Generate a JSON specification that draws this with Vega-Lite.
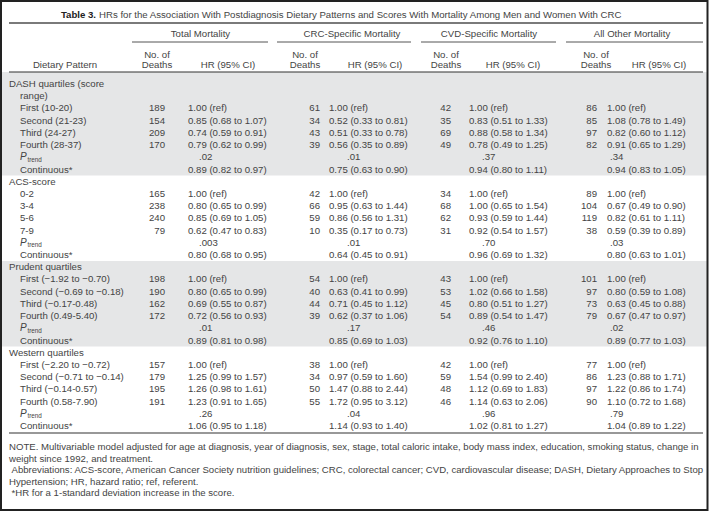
{
  "$schema": "https://vega.github.io/schema/vega-lite/v6.json",
  "width": 712,
  "height": 513,
  "autosize": "none",
  "padding": 0,
  "background": "white",
  "config": {"view": {"stroke": null}},
  "datasets": {
    "cols": [
      {"key": "s", "c": 0}, {"key": "l", "c": 2}, {"key": "pi", "c": 2}, {"key": "ps", "c": 3},
      {"key": "td", "c": 9}, {"key": "th", "c": 10}, {"key": "tp", "c": 11},
      {"key": "cd", "c": 17}, {"key": "ch", "c": 18}, {"key": "cp", "c": 19},
      {"key": "vd", "c": 25}, {"key": "vh", "c": 26}, {"key": "vp", "c": 27},
      {"key": "od", "c": 33}, {"key": "oh", "c": 34}, {"key": "op", "c": 35}
    ],
    "rows": [
      {"r": 0, "s": "DASH quartiles (score"},
      {"r": 1, "l": "range)"},
      {"r": 2, "l": "First (10-20)", "td": 189, "th": "1.00 (ref)", "cd": 61, "ch": "1.00 (ref)", "vd": 42, "vh": "1.00 (ref)", "od": 86, "oh": "1.00 (ref)"},
      {"r": 3, "l": "Second (21-23)", "td": 154, "th": "0.85 (0.68 to 1.07)", "cd": 34, "ch": "0.52 (0.33 to 0.81)", "vd": 35, "vh": "0.83 (0.51 to 1.33)", "od": 85, "oh": "1.08 (0.78 to 1.49)"},
      {"r": 4, "l": "Third (24-27)", "td": 209, "th": "0.74 (0.59 to 0.91)", "cd": 43, "ch": "0.51 (0.33 to 0.78)", "vd": 69, "vh": "0.88 (0.58 to 1.34)", "od": 97, "oh": "0.82 (0.60 to 1.12)"},
      {"r": 5, "l": "Fourth (28-37)", "td": 170, "th": "0.79 (0.62 to 0.99)", "cd": 39, "ch": "0.56 (0.35 to 0.89)", "vd": 49, "vh": "0.78 (0.49 to 1.25)", "od": 82, "oh": "0.91 (0.65 to 1.29)"},
      {"r": 6, "pi": "P", "ps": "trend", "tp": ".02", "cp": ".01", "vp": ".37", "op": ".34"},
      {"r": 7, "l": "Continuous*", "th": "0.89 (0.82 to 0.97)", "ch": "0.75 (0.63 to 0.90)", "vh": "0.94 (0.80 to 1.11)", "oh": "0.94 (0.83 to 1.05)"},
      {"r": 8, "s": "ACS-score"},
      {"r": 9, "l": "0-2", "td": 165, "th": "1.00 (ref)", "cd": 42, "ch": "1.00 (ref)", "vd": 34, "vh": "1.00 (ref)", "od": 89, "oh": "1.00 (ref)"},
      {"r": 10, "l": "3-4", "td": 238, "th": "0.80 (0.65 to 0.99)", "cd": 66, "ch": "0.95 (0.63 to 1.44)", "vd": 68, "vh": "1.00 (0.65 to 1.54)", "od": 104, "oh": "0.67 (0.49 to 0.90)"},
      {"r": 11, "l": "5-6", "td": 240, "th": "0.85 (0.69 to 1.05)", "cd": 59, "ch": "0.86 (0.56 to 1.31)", "vd": 62, "vh": "0.93 (0.59 to 1.44)", "od": 119, "oh": "0.82 (0.61 to 1.11)"},
      {"r": 12, "l": "7-9", "td": 79, "th": "0.62 (0.47 to 0.83)", "cd": 10, "ch": "0.35 (0.17 to 0.73)", "vd": 31, "vh": "0.92 (0.54 to 1.57)", "od": 38, "oh": "0.59 (0.39 to 0.89)"},
      {"r": 13, "pi": "P", "ps": "trend", "tp": ".003", "cp": ".01", "vp": ".70", "op": ".03"},
      {"r": 14, "l": "Continuous*", "th": "0.80 (0.68 to 0.95)", "ch": "0.64 (0.45 to 0.91)", "vh": "0.96 (0.69 to 1.32)", "oh": "0.80 (0.63 to 1.01)"},
      {"r": 15, "s": "Prudent quartiles"},
      {"r": 16, "l": "First (−1.92 to −0.70)", "td": 198, "th": "1.00 (ref)", "cd": 54, "ch": "1.00 (ref)", "vd": 43, "vh": "1.00 (ref)", "od": 101, "oh": "1.00 (ref)"},
      {"r": 17, "l": "Second (−0.69 to −0.18)", "td": 190, "th": "0.80 (0.65 to 0.99)", "cd": 40, "ch": "0.63 (0.41 to 0.99)", "vd": 53, "vh": "1.02 (0.66 to 1.58)", "od": 97, "oh": "0.80 (0.59 to 1.08)"},
      {"r": 18, "l": "Third (−0.17-0.48)", "td": 162, "th": "0.69 (0.55 to 0.87)", "cd": 44, "ch": "0.71 (0.45 to 1.12)", "vd": 45, "vh": "0.80 (0.51 to 1.27)", "od": 73, "oh": "0.63 (0.45 to 0.88)"},
      {"r": 19, "l": "Fourth (0.49-5.40)", "td": 172, "th": "0.72 (0.56 to 0.93)", "cd": 39, "ch": "0.62 (0.37 to 1.06)", "vd": 54, "vh": "0.89 (0.54 to 1.47)", "od": 79, "oh": "0.67 (0.47 to 0.97)"},
      {"r": 20, "pi": "P", "ps": "trend", "tp": ".01", "cp": ".17", "vp": ".46", "op": ".02"},
      {"r": 21, "l": "Continuous*", "th": "0.89 (0.81 to 0.98)", "ch": "0.85 (0.69 to 1.03)", "vh": "0.92 (0.76 to 1.10)", "oh": "0.89 (0.77 to 1.03)"},
      {"r": 22, "s": "Western quartiles"},
      {"r": 23, "l": "First (−2.20 to −0.72)", "td": 157, "th": "1.00 (ref)", "cd": 38, "ch": "1.00 (ref)", "vd": 42, "vh": "1.00 (ref)", "od": 77, "oh": "1.00 (ref)"},
      {"r": 24, "l": "Second (−0.71 to −0.14)", "td": 179, "th": "1.25 (0.99 to 1.57)", "cd": 34, "ch": "0.97 (0.59 to 1.60)", "vd": 59, "vh": "1.54 (0.99 to 2.40)", "od": 86, "oh": "1.23 (0.88 to 1.71)"},
      {"r": 25, "l": "Third (−0.14-0.57)", "td": 195, "th": "1.26 (0.98 to 1.61)", "cd": 50, "ch": "1.47 (0.88 to 2.44)", "vd": 48, "vh": "1.12 (0.69 to 1.83)", "od": 97, "oh": "1.22 (0.86 to 1.74)"},
      {"r": 26, "l": "Fourth (0.58-7.90)", "td": 191, "th": "1.23 (0.91 to 1.65)", "cd": 55, "ch": "1.72 (0.95 to 3.12)", "vd": 46, "vh": "1.14 (0.63 to 2.06)", "od": 90, "oh": "1.10 (0.72 to 1.68)"},
      {"r": 27, "pi": "P", "ps": "trend", "tp": ".26", "cp": ".04", "vp": ".96", "op": ".79"},
      {"r": 28, "l": "Continuous*", "th": "1.06 (0.95 to 1.18)", "ch": "1.14 (0.93 to 1.40)", "vh": "1.02 (0.81 to 1.27)", "oh": "1.04 (0.89 to 1.22)"}
    ],
    "heads": [
      {"r": -7, "c": 5, "k": "tablenum", "t": "Table 3."},
      {"r": -7, "c": 6, "k": "title", "t": "HRs for the Association With Postdiagnosis Dietary Patterns and Scores With Mortality Among Men and Women With CRC"},
      {"r": -5, "c": 12, "k": "head", "t": "Total Mortality"},
      {"r": -5, "c": 20, "k": "head", "t": "CRC-Specific Mortality"},
      {"r": -5, "c": 28, "k": "head", "t": "CVD-Specific Mortality"},
      {"r": -5, "c": 36, "k": "head", "t": "All Other Mortality"},
      {"r": -3, "c": 8, "k": "head", "t": "No. of"},
      {"r": -3, "c": 16, "k": "head", "t": "No. of"},
      {"r": -3, "c": 24, "k": "head", "t": "No. of"},
      {"r": -3, "c": 32, "k": "head", "t": "No. of"},
      {"r": -2, "c": 4, "k": "head", "t": "Dietary Pattern"},
      {"r": -2, "c": 8, "k": "head", "t": "Deaths"},
      {"r": -2, "c": 16, "k": "head", "t": "Deaths"},
      {"r": -2, "c": 24, "k": "head", "t": "Deaths"},
      {"r": -2, "c": 32, "k": "head", "t": "Deaths"},
      {"r": -2, "c": 13, "k": "head", "t": "HR (95% CI)"},
      {"r": -2, "c": 21, "k": "head", "t": "HR (95% CI)"},
      {"r": -2, "c": 29, "k": "head", "t": "HR (95% CI)"},
      {"r": -2, "c": 37, "k": "head", "t": "HR (95% CI)"},
      {"r": 30, "c": 0, "k": "note", "t": "NOTE. Multivariable model adjusted for age at diagnosis, year of diagnosis, sex, stage, total caloric intake, body mass index, education, smoking status, change in"},
      {"r": 31, "c": 0, "k": "note", "t": "weight since 1992, and treatment."},
      {"r": 32, "c": 1, "k": "note", "t": "Abbreviations: ACS-score, American Cancer Society nutrition guidelines; CRC, colorectal cancer; CVD, cardiovascular disease; DASH, Dietary Approaches to Stop"},
      {"r": 33, "c": 0, "k": "note", "t": "Hypertension; HR, hazard ratio; ref, referent."},
      {"r": 34, "c": 1, "k": "note", "t": "*HR for a 1-standard deviation increase in the score."}
    ],
    "lines": [
      {"r": -6, "c": 0, "c2": 38, "k": "top"},
      {"r": -4, "c": 7, "c2": 14, "k": "under"},
      {"r": -4, "c": 15, "c2": 22, "k": "under"},
      {"r": -4, "c": 23, "c2": 30, "k": "under"},
      {"r": -4, "c": 31, "c2": 38, "k": "under"},
      {"r": -1, "c": 0, "c2": 38, "k": "header"},
      {"r": 29, "c": 0, "c2": 38, "k": "bottom"}
    ],
    "bands": [
      {"r": -1, "r2": 7.5, "c": 0, "c2": 38},
      {"r": 14.5, "r2": 21.5, "c": 0, "c2": 38}
    ],
    "frame": [
      {"r": -7, "r2": 34, "c": 0, "c2": 38}
    ]
  },
  "encoding": {
    "x": {"field": "c", "type": "quantitative", "axis": null,
      "scale": {"domain": [0,1,2,3,4,5,6,7,8,9,10,11,12,13,14,15,16,17,18,19,20,21,22,23,24,25,26,27,28,29,30,31,32,33,34,35,36,37,38],
                "range": [9,11.5,20,27.5,65,96,99,132,157,165,188,199,200.5,228,268,277,305,320,329,347,352,375,411,421,446,451,469,482,489,513,556,566,596,597,607,610,632,659,703]}},
    "y": {"field": "r", "type": "quantitative", "axis": null,
      "scale": {"domain": [-7,-6,-5,-4,-3,-2,-1,0,28,29,30,34],
                "range": [15,23,34,42,55,65,72,84,426,433,447,493]}}
  },
  "layer": [
    {"data": {"name": "bands"}, "mark": {"type": "rect", "fill": "#e5e6e7", "xOffset": -7, "x2Offset": 4},
     "encoding": {"x2": {"field": "c2"}, "y2": {"field": "r2"}}},
    {"data": {"name": "frame"}, "mark": {"type": "rect", "fill": null, "stroke": "#222222", "strokeWidth": 2, "xOffset": -8, "x2Offset": 4.5, "yOffset": -14, "y2Offset": 17},
     "encoding": {"x2": {"field": "c2"}, "y2": {"field": "r2"}}},
    {"data": {"name": "lines"}, "transform": [{"filter": "datum.k == 'top'"}],
     "mark": {"type": "rule", "stroke": "#7a7a7a", "strokeWidth": 2}, "encoding": {"x2": {"field": "c2"}}},
    {"data": {"name": "lines"}, "transform": [{"filter": "datum.k == 'under'"}],
     "mark": {"type": "rule", "stroke": "#555555", "strokeWidth": 1}, "encoding": {"x2": {"field": "c2"}}},
    {"data": {"name": "lines"}, "transform": [{"filter": "datum.k == 'header' || datum.k == 'bottom'"}],
     "mark": {"type": "rule", "stroke": "#333333", "strokeWidth": 1.2}, "encoding": {"x2": {"field": "c2"}}},
    {"data": {"name": "rows"},
     "transform": [
       {"fold": ["s","l","pi","ps","td","th","tp","cd","ch","cp","vd","vh","vp","od","oh","op"], "as": ["key","value"]},
       {"filter": "datum.value != null"},
       {"lookup": "key", "from": {"data": {"name": "cols"}, "key": "key", "fields": ["c"]}}
     ],
     "layer": [
       {"transform": [{"filter": {"field": "key", "oneOf": ["s","l","th","tp","ch","cp","vh","vp","oh","op"]}}],
        "mark": {"type": "text", "align": "left", "baseline": "middle", "font": "Liberation Sans", "fontSize": 9.65, "fill": "#444444"},
        "encoding": {"text": {"field": "value", "type": "nominal"}}},
       {"transform": [{"filter": {"field": "key", "oneOf": ["td","cd","vd","od"]}}],
        "mark": {"type": "text", "align": "right", "baseline": "middle", "font": "Liberation Sans", "fontSize": 9.65, "fill": "#444444"},
        "encoding": {"text": {"field": "value", "type": "nominal"}}},
       {"transform": [{"filter": "datum.key == 'pi'"}],
        "mark": {"type": "text", "align": "left", "baseline": "middle", "font": "Liberation Sans", "fontSize": 10, "fontStyle": "italic", "fill": "#444444"},
        "encoding": {"text": {"field": "value", "type": "nominal"}}},
       {"transform": [{"filter": "datum.key == 'ps'"}],
        "mark": {"type": "text", "align": "left", "baseline": "middle", "dy": 2.5, "font": "Liberation Sans", "fontSize": 6.3, "fill": "#444444"},
        "encoding": {"text": {"field": "value", "type": "nominal"}}}
     ]},
    {"data": {"name": "heads"}, "transform": [{"filter": "datum.k == 'head'"}],
     "mark": {"type": "text", "align": "center", "baseline": "middle", "font": "Liberation Sans", "fontSize": 9.65, "fill": "#444444"},
     "encoding": {"text": {"field": "t", "type": "nominal"}}},
    {"data": {"name": "heads"}, "transform": [{"filter": "datum.k == 'title'"}],
     "mark": {"type": "text", "align": "left", "baseline": "middle", "font": "Liberation Sans", "fontSize": 9.65, "fill": "#444444"},
     "encoding": {"text": {"field": "t", "type": "nominal"}}},
    {"data": {"name": "heads"}, "transform": [{"filter": "datum.k == 'note'"}],
     "mark": {"type": "text", "align": "left", "baseline": "middle", "font": "Liberation Sans", "fontSize": 9.6, "fill": "#444444"},
     "encoding": {"text": {"field": "t", "type": "nominal"}}},
    {"data": {"name": "heads"}, "transform": [{"filter": "datum.k == 'tablenum'"}],
     "mark": {"type": "text", "align": "right", "baseline": "middle", "font": "Liberation Sans", "fontSize": 9.65, "fontWeight": "bold", "fill": "#222222"},
     "encoding": {"text": {"field": "t", "type": "nominal"}}}
  ]
}
